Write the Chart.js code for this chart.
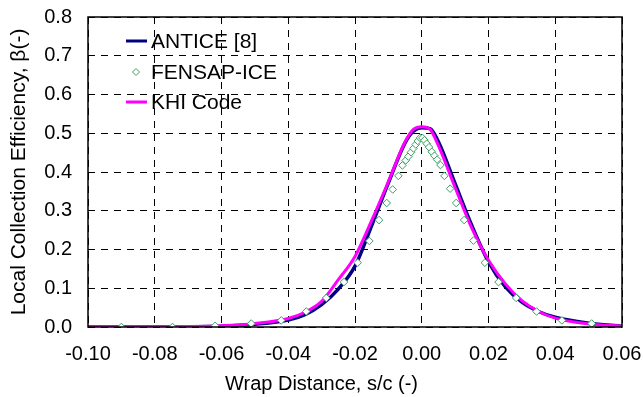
<!DOCTYPE html>
<html>
<head>
<meta charset="utf-8">
<script src="https://cdn.jsdelivr.net/npm/chart.js@4/dist/chart.umd.min.js"></script>
<style>
    html, body { margin: 0; padding: 0; background: #fff; }
    #wrap { width: 643px; height: 397px; position: relative; }
</style>
</head>
<body>
<div id="wrap"><canvas id="beta"></canvas></div>
<script>
// ANTICE [8]
const anticeSc = [-0.10, -0.06, -0.05, -0.04, -0.035, -0.03, -0.025, -0.02, -0.015, -0.01, -0.005, -0.0025, 0.000, 0.0025, 0.005, 0.010, 0.015, 0.020, 0.025, 0.030, 0.035, 0.040, 0.050, 0.060];
const anticeBeta = [0.000, 0.002, 0.007, 0.018, 0.032, 0.058, 0.098, 0.157, 0.262, 0.372, 0.475, 0.505, 0.514, 0.512, 0.478, 0.370, 0.262, 0.168, 0.104, 0.064, 0.040, 0.025, 0.010, 0.002];

// FENSAP-ICE
const fensapSc = [-0.090, -0.0747, -0.0619, -0.0511, -0.0421, -0.0346, -0.0286, -0.0233, -0.0192, -0.0157, -0.0128, -0.0105, -0.0087, -0.0070, -0.0058, -0.0048, -0.0040, -0.0032, -0.0025, -0.0018, -0.0012, -0.0005, 0.0002, 0.0008, 0.0015, 0.0022, 0.0030, 0.0038, 0.0046, 0.0056, 0.0068, 0.0085, 0.0103, 0.0127, 0.0155, 0.0189, 0.0230, 0.0283, 0.0344, 0.0420, 0.0509];
const fensapBeta = [0.000, 0.000, 0.003, 0.009, 0.017, 0.040, 0.075, 0.116, 0.166, 0.222, 0.276, 0.320, 0.355, 0.390, 0.417, 0.430, 0.440, 0.451, 0.461, 0.471, 0.480, 0.488, 0.488, 0.482, 0.473, 0.464, 0.452, 0.442, 0.432, 0.418, 0.390, 0.357, 0.320, 0.276, 0.223, 0.166, 0.116, 0.075, 0.040, 0.017, 0.009];

// KHI Code
const khiSc = [-0.10, -0.07, -0.06, -0.05, -0.04, -0.035, -0.03, -0.025, -0.02, -0.015, -0.01, -0.005, -0.0025, 0.000, 0.0025, 0.005, 0.010, 0.015, 0.020, 0.025, 0.030, 0.035, 0.040, 0.050, 0.060];
const khiBeta = [0.000, 0.001, 0.003, 0.009, 0.022, 0.038, 0.066, 0.122, 0.182, 0.275, 0.375, 0.478, 0.510, 0.517, 0.510, 0.468, 0.360, 0.255, 0.172, 0.112, 0.068, 0.040, 0.023, 0.008, 0.002];

const xTickValues = [-0.10, -0.08, -0.06, -0.04, -0.02, 0.00, 0.02, 0.04, 0.06];
const yTickValues = [0.0, 0.1, 0.2, 0.3, 0.4, 0.5, 0.6, 0.7, 0.8];

const seriesNames = ['ANTICE [8]', 'FENSAP-ICE', 'KHI Code'];
const xTitle = 'Wrap Distance, s/c (-)';

const FONT = 'Arial, "Liberation Sans", sans-serif';

function toPoints(xs, ys) {
    return xs.map((x, i) => ({ x: x, y: ys[i] }));
}

// frame round the plot area, legend inside it, x title
const framePlugin = {
    id: 'frame',
    afterDraw(chart) {
        const ctx = chart.ctx;
        const a = chart.chartArea;
        ctx.save();
        ctx.strokeStyle = '#000';
        ctx.lineWidth = 1.5;
        ctx.strokeRect(a.left, a.top, a.right - a.left, a.bottom - a.top);

        // legend
        const lx = a.left + 38;
        const rows = [a.top + 24, a.top + 55, a.top + 85];
        ctx.font = '21px ' + FONT;
        ctx.textBaseline = 'middle';
        ctx.textAlign = 'left';

        ctx.lineWidth = 3;
        ctx.strokeStyle = '#000080';
        ctx.beginPath(); ctx.moveTo(lx, rows[0]); ctx.lineTo(lx + 21, rows[0]); ctx.stroke();

        ctx.lineWidth = 1;
        ctx.strokeStyle = '#3f9a66';
        ctx.fillStyle = '#fff';
        const cx = lx + 10, cy = rows[1], r = 3.5;
        ctx.beginPath();
        ctx.moveTo(cx, cy - r); ctx.lineTo(cx + r, cy); ctx.lineTo(cx, cy + r); ctx.lineTo(cx - r, cy); ctx.closePath();
        ctx.fill(); ctx.stroke();

        ctx.lineWidth = 3;
        ctx.strokeStyle = '#ff00ff';
        ctx.beginPath(); ctx.moveTo(lx, rows[2]); ctx.lineTo(lx + 21, rows[2]); ctx.stroke();

        ctx.fillStyle = '#000';
        seriesNames.forEach((name, i) => ctx.fillText(name, lx + 25, rows[i] + 1));

        // x axis title, centred on the canvas like the original
        ctx.font = '20px ' + FONT;
        ctx.textAlign = 'center';
        ctx.fillText(xTitle, chart.width / 2, 384);
        ctx.restore();
    }
};

const ctx = document.getElementById('beta').getContext('2d');
new Chart(ctx, {
    type: 'line',
    data: {
        datasets: [
            {
                label: seriesNames[1],
                data: toPoints(fensapSc, fensapBeta),
                showLine: false,
                pointStyle: 'rectRot',
                pointRadius: 3.8,
                pointBorderWidth: 1,
                pointBorderColor: '#36a062',
                pointBackgroundColor: '#fff'
            },
            {
                label: seriesNames[2],
                data: toPoints(khiSc, khiBeta),
                borderColor: '#ff00ff',
                borderWidth: 3,
                pointRadius: 0,
                cubicInterpolationMode: 'monotone'
            },
            {
                label: seriesNames[0],
                data: toPoints(anticeSc, anticeBeta),
                borderColor: '#000080',
                borderWidth: 3.5,
                pointRadius: 0,
                cubicInterpolationMode: 'monotone'
            }
        ]
    },
    options: {
        responsive: true,
        maintainAspectRatio: false,
        animation: false,
        layout: { padding: { top: 17, right: 21, left: 0, bottom: 0 } },
        plugins: {
            legend: { display: false },
            tooltip: { enabled: false }
        },
        scales: {
            x: {
                type: 'linear',
                min: -0.10,
                max: 0.06,
                afterBuildTicks: (scale) => { scale.ticks = xTickValues.map(v => ({ value: v })); },
                afterFit: (scale) => { scale.height = 70; },
                grid: { color: '#000', lineWidth: 1, drawTicks: true, tickLength: 15, tickColor: 'rgba(0,0,0,0)' },
                border: { display: false, dash: [7, 6] },
                ticks: {
                    padding: 0,
                    color: '#000',
                    font: { family: FONT, size: 20 },
                    maxRotation: 0,
                    callback: (v) => Math.abs(v) < 1e-9 ? '0.00' : Number(v).toFixed(2)
                },
                title: { display: false }
            },
            y: {
                min: 0,
                max: 0.8,
                afterBuildTicks: (scale) => { scale.ticks = yTickValues.map(v => ({ value: v })); },
                afterFit: (scale) => { scale.width = 88; },
                grid: { color: '#000', lineWidth: 1, drawTicks: true, tickLength: 16, tickColor: 'rgba(0,0,0,0)' },
                border: { display: false, dash: [7, 6] },
                ticks: {
                    padding: 0,
                    color: '#000',
                    font: { family: FONT, size: 20 },
                    callback: (v) => Number(v).toFixed(1)
                },
                title: {
                    display: true,
                    text: 'Local Collection Efficiency, β(-)',
                    color: '#000',
                    font: { family: FONT, size: 21 },
                    padding: { top: 7, bottom: 0 }
                }
            }
        }
    },
    plugins: [framePlugin]
});
</script>
</body>
</html>
